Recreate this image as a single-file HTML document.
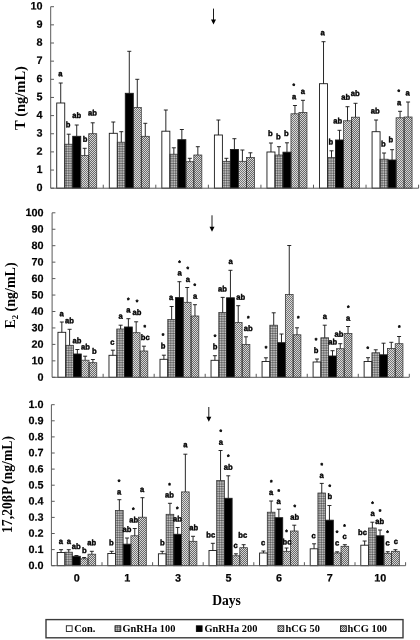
<!DOCTYPE html>
<html><head><meta charset="utf-8"><title>Figure</title>
<style>html,body{margin:0;padding:0;background:#fff}svg{display:block;filter:blur(0.32px)}
text{fill:#000}
.tx{opacity:0.999}
.tk{font:bold 10.8px "Liberation Sans",sans-serif;stroke:#000;stroke-width:0.2px}
.lt{font:bold 8px "Liberation Sans",sans-serif;text-anchor:middle;stroke:#000;stroke-width:0.42px}
.st{font:bold 6.5px "Liberation Sans",sans-serif;text-anchor:middle;stroke:#000;stroke-width:0.4px}
.yt{font-family:"Liberation Serif",serif;font-weight:bold;text-anchor:middle}
.lg{font:bold 10.4px "Liberation Serif",serif}
</style>
</head><body>
<svg width="420" height="640" viewBox="0 0 420 640">
<rect width="420" height="640" fill="#fff"/>
<defs>
<clipPath id="cg"><rect x="64.73" y="144.20" width="8.00" height="44.00"/><rect x="117.29" y="142.20" width="8.00" height="46.00"/><rect x="169.84" y="154.20" width="8.00" height="34.00"/><rect x="222.40" y="161.30" width="8.00" height="26.90"/><rect x="274.96" y="155.00" width="8.00" height="33.20"/><rect x="327.51" y="157.50" width="8.00" height="30.70"/><rect x="380.07" y="159.20" width="8.00" height="29.00"/><rect x="65.71" y="345.30" width="7.77" height="32.00"/><rect x="116.74" y="329.00" width="7.77" height="48.30"/><rect x="167.77" y="319.50" width="7.77" height="57.80"/><rect x="218.80" y="312.60" width="7.77" height="64.70"/><rect x="269.83" y="325.20" width="7.77" height="52.10"/><rect x="320.86" y="337.80" width="7.77" height="39.50"/><rect x="371.89" y="352.80" width="7.77" height="24.50"/><rect x="64.90" y="552.20" width="7.70" height="13.50"/><rect x="115.50" y="510.50" width="7.70" height="55.20"/><rect x="166.10" y="514.30" width="7.70" height="51.40"/><rect x="216.70" y="480.50" width="7.70" height="85.20"/><rect x="267.30" y="512.20" width="7.70" height="53.50"/><rect x="317.90" y="493.00" width="7.70" height="72.70"/><rect x="368.50" y="528.00" width="7.70" height="37.70"/><rect x="115.00" y="625.80" width="5.80" height="5.80"/></clipPath>
<clipPath id="cd"><rect x="80.73" y="155.50" width="8.00" height="32.70"/><rect x="133.29" y="107.50" width="8.00" height="80.70"/><rect x="185.84" y="161.70" width="8.00" height="26.50"/><rect x="238.40" y="161.30" width="8.00" height="26.90"/><rect x="290.96" y="113.80" width="8.00" height="74.40"/><rect x="343.51" y="120.80" width="8.00" height="67.40"/><rect x="396.07" y="117.80" width="8.00" height="70.40"/><rect x="81.25" y="360.20" width="7.77" height="17.10"/><rect x="132.28" y="332.70" width="7.77" height="44.60"/><rect x="183.30" y="302.30" width="7.77" height="75.00"/><rect x="234.33" y="322.60" width="7.77" height="54.70"/><rect x="285.36" y="294.60" width="7.77" height="82.70"/><rect x="336.39" y="348.70" width="7.77" height="28.60"/><rect x="387.42" y="348.50" width="7.77" height="28.80"/><rect x="80.30" y="558.80" width="7.70" height="6.90"/><rect x="130.90" y="535.80" width="7.70" height="29.90"/><rect x="181.50" y="491.90" width="7.70" height="73.80"/><rect x="232.10" y="555.80" width="7.70" height="9.90"/><rect x="282.70" y="551.30" width="7.70" height="14.40"/><rect x="333.30" y="553.00" width="7.70" height="12.70"/><rect x="383.90" y="553.30" width="7.70" height="12.40"/><rect x="278.00" y="625.80" width="5.80" height="5.80"/></clipPath>
<clipPath id="cw"><rect x="88.73" y="133.70" width="8.00" height="54.50"/><rect x="141.29" y="136.30" width="8.00" height="51.90"/><rect x="193.84" y="155.00" width="8.00" height="33.20"/><rect x="246.40" y="157.50" width="8.00" height="30.70"/><rect x="298.96" y="112.50" width="8.00" height="75.70"/><rect x="351.51" y="117.20" width="8.00" height="71.00"/><rect x="404.07" y="117.00" width="8.00" height="71.20"/><rect x="89.01" y="362.70" width="7.77" height="14.60"/><rect x="140.04" y="351.00" width="7.77" height="26.30"/><rect x="191.07" y="316.00" width="7.77" height="61.30"/><rect x="242.10" y="344.50" width="7.77" height="32.80"/><rect x="293.13" y="334.80" width="7.77" height="42.50"/><rect x="344.16" y="333.50" width="7.77" height="43.80"/><rect x="395.19" y="343.70" width="7.77" height="33.60"/><rect x="88.00" y="554.20" width="7.70" height="11.50"/><rect x="138.60" y="517.20" width="7.70" height="48.50"/><rect x="189.20" y="541.30" width="7.70" height="24.40"/><rect x="239.80" y="547.70" width="7.70" height="18.00"/><rect x="290.40" y="531.00" width="7.70" height="34.70"/><rect x="341.00" y="546.30" width="7.70" height="19.40"/><rect x="391.60" y="551.30" width="7.70" height="14.40"/><rect x="340.50" y="625.80" width="5.80" height="5.80"/></clipPath>
<pattern id="pd" width="2" height="2" patternUnits="userSpaceOnUse"><rect width="2" height="2" fill="#dadada"/><rect width="1" height="1" fill="#767676"/><rect x="1" y="1" width="1" height="1" fill="#767676"/></pattern>
<pattern id="pw" width="2" height="2" patternUnits="userSpaceOnUse"><rect width="2" height="2" fill="#d4d4d4"/><rect x="1" width="1" height="1" fill="#686868"/><rect y="1" width="1" height="1" fill="#686868"/></pattern>
</defs>
<g><rect x="72.73" y="136.30" width="8.00" height="51.90" fill="#000"/><rect x="125.29" y="93.30" width="8.00" height="94.90" fill="#000"/><rect x="177.84" y="139.70" width="8.00" height="48.50" fill="#000"/><rect x="230.40" y="149.50" width="8.00" height="38.70" fill="#000"/><rect x="282.96" y="152.20" width="8.00" height="36.00" fill="#000"/><rect x="335.51" y="140.00" width="8.00" height="48.20" fill="#000"/><rect x="388.07" y="160.00" width="8.00" height="28.20" fill="#000"/><rect x="73.48" y="354.00" width="7.77" height="23.30" fill="#000"/><rect x="124.51" y="327.00" width="7.77" height="50.30" fill="#000"/><rect x="175.54" y="297.60" width="7.77" height="79.70" fill="#000"/><rect x="226.57" y="297.80" width="7.77" height="79.50" fill="#000"/><rect x="277.60" y="342.70" width="7.77" height="34.60" fill="#000"/><rect x="328.62" y="356.00" width="7.77" height="21.30" fill="#000"/><rect x="379.65" y="354.80" width="7.77" height="22.50" fill="#000"/><rect x="72.60" y="556.30" width="7.70" height="9.40" fill="#000"/><rect x="123.20" y="544.20" width="7.70" height="21.50" fill="#000"/><rect x="173.80" y="534.30" width="7.70" height="31.40" fill="#000"/><rect x="224.40" y="498.30" width="7.70" height="67.40" fill="#000"/><rect x="275.00" y="517.70" width="7.70" height="48.00" fill="#000"/><rect x="325.60" y="520.20" width="7.70" height="45.50" fill="#000"/><rect x="376.20" y="535.80" width="7.70" height="29.90" fill="#000"/></g>
<path clip-path="url(#cg)" d="M0.3 0V640M2 0V640M3.7 0V640M5.4 0V640M7.1 0V640M8.8 0V640M10.5 0V640M12.2 0V640M13.9 0V640M15.6 0V640M17.3 0V640M19 0V640M20.7 0V640M22.4 0V640M24.1 0V640M25.8 0V640M27.5 0V640M29.2 0V640M30.9 0V640M32.6 0V640M34.3 0V640M36 0V640M37.7 0V640M39.4 0V640M41.1 0V640M42.8 0V640M44.5 0V640M46.2 0V640M47.9 0V640M49.6 0V640M51.3 0V640M53 0V640M54.7 0V640M56.4 0V640M58.1 0V640M59.8 0V640M61.5 0V640M63.2 0V640M64.9 0V640M66.6 0V640M68.3 0V640M70 0V640M71.7 0V640M73.4 0V640M75.1 0V640M76.8 0V640M78.5 0V640M80.2 0V640M81.9 0V640M83.6 0V640M85.3 0V640M87 0V640M88.7 0V640M90.4 0V640M92.1 0V640M93.8 0V640M95.5 0V640M97.2 0V640M98.9 0V640M100.6 0V640M102.3 0V640M104 0V640M105.7 0V640M107.4 0V640M109.1 0V640M110.8 0V640M112.5 0V640M114.2 0V640M115.9 0V640M117.6 0V640M119.3 0V640M121 0V640M122.7 0V640M124.4 0V640M126.1 0V640M127.8 0V640M129.5 0V640M131.2 0V640M132.9 0V640M134.6 0V640M136.3 0V640M138 0V640M139.7 0V640M141.4 0V640M143.1 0V640M144.8 0V640M146.5 0V640M148.2 0V640M149.9 0V640M151.6 0V640M153.3 0V640M155 0V640M156.7 0V640M158.4 0V640M160.1 0V640M161.8 0V640M163.5 0V640M165.2 0V640M166.9 0V640M168.6 0V640M170.3 0V640M172 0V640M173.7 0V640M175.4 0V640M177.1 0V640M178.8 0V640M180.5 0V640M182.2 0V640M183.9 0V640M185.6 0V640M187.3 0V640M189 0V640M190.7 0V640M192.4 0V640M194.1 0V640M195.8 0V640M197.5 0V640M199.2 0V640M200.9 0V640M202.6 0V640M204.3 0V640M206 0V640M207.7 0V640M209.4 0V640M211.1 0V640M212.8 0V640M214.5 0V640M216.2 0V640M217.9 0V640M219.6 0V640M221.3 0V640M223 0V640M224.7 0V640M226.4 0V640M228.1 0V640M229.8 0V640M231.5 0V640M233.2 0V640M234.9 0V640M236.6 0V640M238.3 0V640M240 0V640M241.7 0V640M243.4 0V640M245.1 0V640M246.8 0V640M248.5 0V640M250.2 0V640M251.9 0V640M253.6 0V640M255.3 0V640M257 0V640M258.7 0V640M260.4 0V640M262.1 0V640M263.8 0V640M265.5 0V640M267.2 0V640M268.9 0V640M270.6 0V640M272.3 0V640M274 0V640M275.7 0V640M277.4 0V640M279.1 0V640M280.8 0V640M282.5 0V640M284.2 0V640M285.9 0V640M287.6 0V640M289.3 0V640M291 0V640M292.7 0V640M294.4 0V640M296.1 0V640M297.8 0V640M299.5 0V640M301.2 0V640M302.9 0V640M304.6 0V640M306.3 0V640M308 0V640M309.7 0V640M311.4 0V640M313.1 0V640M314.8 0V640M316.5 0V640M318.2 0V640M319.9 0V640M321.6 0V640M323.3 0V640M325 0V640M326.7 0V640M328.4 0V640M330.1 0V640M331.8 0V640M333.5 0V640M335.2 0V640M336.9 0V640M338.6 0V640M340.3 0V640M342 0V640M343.7 0V640M345.4 0V640M347.1 0V640M348.8 0V640M350.5 0V640M352.2 0V640M353.9 0V640M355.6 0V640M357.3 0V640M359 0V640M360.7 0V640M362.4 0V640M364.1 0V640M365.8 0V640M367.5 0V640M369.2 0V640M370.9 0V640M372.6 0V640M374.3 0V640M376 0V640M377.7 0V640M379.4 0V640M381.1 0V640M382.8 0V640M384.5 0V640M386.2 0V640M387.9 0V640M389.6 0V640M391.3 0V640M393 0V640M394.7 0V640M396.4 0V640M398.1 0V640M399.8 0V640M401.5 0V640M403.2 0V640M404.9 0V640M406.6 0V640M408.3 0V640M410 0V640M411.7 0V640M413.4 0V640M415.1 0V640M416.8 0V640M418.5 0V640M0 0.3H420M0 2H420M0 3.7H420M0 5.4H420M0 7.1H420M0 8.8H420M0 10.5H420M0 12.2H420M0 13.9H420M0 15.6H420M0 17.3H420M0 19H420M0 20.7H420M0 22.4H420M0 24.1H420M0 25.8H420M0 27.5H420M0 29.2H420M0 30.9H420M0 32.6H420M0 34.3H420M0 36H420M0 37.7H420M0 39.4H420M0 41.1H420M0 42.8H420M0 44.5H420M0 46.2H420M0 47.9H420M0 49.6H420M0 51.3H420M0 53H420M0 54.7H420M0 56.4H420M0 58.1H420M0 59.8H420M0 61.5H420M0 63.2H420M0 64.9H420M0 66.6H420M0 68.3H420M0 70H420M0 71.7H420M0 73.4H420M0 75.1H420M0 76.8H420M0 78.5H420M0 80.2H420M0 81.9H420M0 83.6H420M0 85.3H420M0 87H420M0 88.7H420M0 90.4H420M0 92.1H420M0 93.8H420M0 95.5H420M0 97.2H420M0 98.9H420M0 100.6H420M0 102.3H420M0 104H420M0 105.7H420M0 107.4H420M0 109.1H420M0 110.8H420M0 112.5H420M0 114.2H420M0 115.9H420M0 117.6H420M0 119.3H420M0 121H420M0 122.7H420M0 124.4H420M0 126.1H420M0 127.8H420M0 129.5H420M0 131.2H420M0 132.9H420M0 134.6H420M0 136.3H420M0 138H420M0 139.7H420M0 141.4H420M0 143.1H420M0 144.8H420M0 146.5H420M0 148.2H420M0 149.9H420M0 151.6H420M0 153.3H420M0 155H420M0 156.7H420M0 158.4H420M0 160.1H420M0 161.8H420M0 163.5H420M0 165.2H420M0 166.9H420M0 168.6H420M0 170.3H420M0 172H420M0 173.7H420M0 175.4H420M0 177.1H420M0 178.8H420M0 180.5H420M0 182.2H420M0 183.9H420M0 185.6H420M0 187.3H420M0 189H420M0 190.7H420M0 192.4H420M0 194.1H420M0 195.8H420M0 197.5H420M0 199.2H420M0 200.9H420M0 202.6H420M0 204.3H420M0 206H420M0 207.7H420M0 209.4H420M0 211.1H420M0 212.8H420M0 214.5H420M0 216.2H420M0 217.9H420M0 219.6H420M0 221.3H420M0 223H420M0 224.7H420M0 226.4H420M0 228.1H420M0 229.8H420M0 231.5H420M0 233.2H420M0 234.9H420M0 236.6H420M0 238.3H420M0 240H420M0 241.7H420M0 243.4H420M0 245.1H420M0 246.8H420M0 248.5H420M0 250.2H420M0 251.9H420M0 253.6H420M0 255.3H420M0 257H420M0 258.7H420M0 260.4H420M0 262.1H420M0 263.8H420M0 265.5H420M0 267.2H420M0 268.9H420M0 270.6H420M0 272.3H420M0 274H420M0 275.7H420M0 277.4H420M0 279.1H420M0 280.8H420M0 282.5H420M0 284.2H420M0 285.9H420M0 287.6H420M0 289.3H420M0 291H420M0 292.7H420M0 294.4H420M0 296.1H420M0 297.8H420M0 299.5H420M0 301.2H420M0 302.9H420M0 304.6H420M0 306.3H420M0 308H420M0 309.7H420M0 311.4H420M0 313.1H420M0 314.8H420M0 316.5H420M0 318.2H420M0 319.9H420M0 321.6H420M0 323.3H420M0 325H420M0 326.7H420M0 328.4H420M0 330.1H420M0 331.8H420M0 333.5H420M0 335.2H420M0 336.9H420M0 338.6H420M0 340.3H420M0 342H420M0 343.7H420M0 345.4H420M0 347.1H420M0 348.8H420M0 350.5H420M0 352.2H420M0 353.9H420M0 355.6H420M0 357.3H420M0 359H420M0 360.7H420M0 362.4H420M0 364.1H420M0 365.8H420M0 367.5H420M0 369.2H420M0 370.9H420M0 372.6H420M0 374.3H420M0 376H420M0 377.7H420M0 379.4H420M0 381.1H420M0 382.8H420M0 384.5H420M0 386.2H420M0 387.9H420M0 389.6H420M0 391.3H420M0 393H420M0 394.7H420M0 396.4H420M0 398.1H420M0 399.8H420M0 401.5H420M0 403.2H420M0 404.9H420M0 406.6H420M0 408.3H420M0 410H420M0 411.7H420M0 413.4H420M0 415.1H420M0 416.8H420M0 418.5H420M0 420.2H420M0 421.9H420M0 423.6H420M0 425.3H420M0 427H420M0 428.7H420M0 430.4H420M0 432.1H420M0 433.8H420M0 435.5H420M0 437.2H420M0 438.9H420M0 440.6H420M0 442.3H420M0 444H420M0 445.7H420M0 447.4H420M0 449.1H420M0 450.8H420M0 452.5H420M0 454.2H420M0 455.9H420M0 457.6H420M0 459.3H420M0 461H420M0 462.7H420M0 464.4H420M0 466.1H420M0 467.8H420M0 469.5H420M0 471.2H420M0 472.9H420M0 474.6H420M0 476.3H420M0 478H420M0 479.7H420M0 481.4H420M0 483.1H420M0 484.8H420M0 486.5H420M0 488.2H420M0 489.9H420M0 491.6H420M0 493.3H420M0 495H420M0 496.7H420M0 498.4H420M0 500.1H420M0 501.8H420M0 503.5H420M0 505.2H420M0 506.9H420M0 508.6H420M0 510.3H420M0 512H420M0 513.7H420M0 515.4H420M0 517.1H420M0 518.8H420M0 520.5H420M0 522.2H420M0 523.9H420M0 525.6H420M0 527.3H420M0 529H420M0 530.7H420M0 532.4H420M0 534.1H420M0 535.8H420M0 537.5H420M0 539.2H420M0 540.9H420M0 542.6H420M0 544.3H420M0 546H420M0 547.7H420M0 549.4H420M0 551.1H420M0 552.8H420M0 554.5H420M0 556.2H420M0 557.9H420M0 559.6H420M0 561.3H420M0 563H420M0 564.7H420M0 566.4H420M0 568.1H420M0 569.8H420M0 571.5H420M0 573.2H420M0 574.9H420M0 576.6H420M0 578.3H420M0 580H420M0 581.7H420M0 583.4H420M0 585.1H420M0 586.8H420M0 588.5H420M0 590.2H420M0 591.9H420M0 593.6H420M0 595.3H420M0 597H420M0 598.7H420M0 600.4H420M0 602.1H420M0 603.8H420M0 605.5H420M0 607.2H420M0 608.9H420M0 610.6H420M0 612.3H420M0 614H420M0 615.7H420M0 617.4H420M0 619.1H420M0 620.8H420M0 622.5H420M0 624.2H420M0 625.9H420M0 627.6H420M0 629.3H420M0 631H420M0 632.7H420M0 634.4H420M0 636.1H420M0 637.8H420M0 639.5H420" stroke="#000" stroke-width="0.43" fill="none"/>
<rect clip-path="url(#cd)" width="420" height="640" fill="url(#pd)" shape-rendering="crispEdges"/>
<rect clip-path="url(#cw)" width="420" height="640" fill="url(#pw)" shape-rendering="crispEdges"/>
<g><rect x="56.73" y="103.00" width="8.00" height="85.20" fill="none" stroke="#1a1a1a" stroke-width="0.90"/>
<path d="M60.73 103.00V83.00M58.73 83.00H62.73" stroke="#111" stroke-width="0.9" fill="none"/>
<rect x="64.73" y="144.20" width="8.00" height="44.00" fill="none" stroke="#333" stroke-width="0.75"/>
<path d="M68.73 144.20V134.20M66.73 134.20H70.73" stroke="#111" stroke-width="0.9" fill="none"/>
<rect x="72.73" y="136.30" width="8.00" height="51.90" fill="none" stroke="#1a1a1a" stroke-width="0.90"/>
<path d="M76.73 136.30V125.00M74.73 125.00H78.73" stroke="#111" stroke-width="0.9" fill="none"/>
<rect x="80.73" y="155.50" width="8.00" height="32.70" fill="none" stroke="#333" stroke-width="0.75"/>
<path d="M84.73 155.50V148.30M82.73 148.30H86.73" stroke="#111" stroke-width="0.9" fill="none"/>
<rect x="88.73" y="133.70" width="8.00" height="54.50" fill="none" stroke="#333" stroke-width="0.75"/>
<path d="M92.73 133.70V122.80M90.73 122.80H94.73" stroke="#111" stroke-width="0.9" fill="none"/>
<rect x="109.29" y="133.30" width="8.00" height="54.90" fill="none" stroke="#1a1a1a" stroke-width="0.90"/>
<path d="M113.29 133.30V122.00M111.29 122.00H115.29" stroke="#111" stroke-width="0.9" fill="none"/>
<rect x="117.29" y="142.20" width="8.00" height="46.00" fill="none" stroke="#333" stroke-width="0.75"/>
<path d="M121.29 142.20V131.70M119.29 131.70H123.29" stroke="#111" stroke-width="0.9" fill="none"/>
<rect x="125.29" y="93.30" width="8.00" height="94.90" fill="none" stroke="#1a1a1a" stroke-width="0.90"/>
<path d="M129.29 93.30V51.30M127.29 51.30H131.29" stroke="#111" stroke-width="0.9" fill="none"/>
<rect x="133.29" y="107.50" width="8.00" height="80.70" fill="none" stroke="#333" stroke-width="0.75"/>
<path d="M137.29 107.50V79.30M135.29 79.30H139.29" stroke="#111" stroke-width="0.9" fill="none"/>
<rect x="141.29" y="136.30" width="8.00" height="51.90" fill="none" stroke="#333" stroke-width="0.75"/>
<path d="M145.28 136.30V123.30M143.28 123.30H147.28" stroke="#111" stroke-width="0.9" fill="none"/>
<rect x="161.84" y="131.20" width="8.00" height="57.00" fill="none" stroke="#1a1a1a" stroke-width="0.90"/>
<path d="M165.84 131.20V110.00M163.84 110.00H167.84" stroke="#111" stroke-width="0.9" fill="none"/>
<rect x="169.84" y="154.20" width="8.00" height="34.00" fill="none" stroke="#333" stroke-width="0.75"/>
<path d="M173.84 154.20V147.80M171.84 147.80H175.84" stroke="#111" stroke-width="0.9" fill="none"/>
<rect x="177.84" y="139.70" width="8.00" height="48.50" fill="none" stroke="#1a1a1a" stroke-width="0.90"/>
<path d="M181.84 139.70V129.50M179.84 129.50H183.84" stroke="#111" stroke-width="0.9" fill="none"/>
<rect x="185.84" y="161.70" width="8.00" height="26.50" fill="none" stroke="#333" stroke-width="0.75"/>
<path d="M189.84 161.70V158.30M187.84 158.30H191.84" stroke="#111" stroke-width="0.9" fill="none"/>
<rect x="193.84" y="155.00" width="8.00" height="33.20" fill="none" stroke="#333" stroke-width="0.75"/>
<path d="M197.84 155.00V146.70M195.84 146.70H199.84" stroke="#111" stroke-width="0.9" fill="none"/>
<rect x="214.40" y="135.00" width="8.00" height="53.20" fill="none" stroke="#1a1a1a" stroke-width="0.90"/>
<path d="M218.40 135.00V120.00M216.40 120.00H220.40" stroke="#111" stroke-width="0.9" fill="none"/>
<rect x="222.40" y="161.30" width="8.00" height="26.90" fill="none" stroke="#333" stroke-width="0.75"/>
<path d="M226.40 161.30V158.30M224.40 158.30H228.40" stroke="#111" stroke-width="0.9" fill="none"/>
<rect x="230.40" y="149.50" width="8.00" height="38.70" fill="none" stroke="#1a1a1a" stroke-width="0.90"/>
<path d="M234.40 149.50V138.70M232.40 138.70H236.40" stroke="#111" stroke-width="0.9" fill="none"/>
<rect x="238.40" y="161.30" width="8.00" height="26.90" fill="none" stroke="#333" stroke-width="0.75"/>
<path d="M242.40 161.30V150.00M240.40 150.00H244.40" stroke="#111" stroke-width="0.9" fill="none"/>
<rect x="246.40" y="157.50" width="8.00" height="30.70" fill="none" stroke="#333" stroke-width="0.75"/>
<path d="M250.40 157.50V152.80M248.40 152.80H252.40" stroke="#111" stroke-width="0.9" fill="none"/>
<rect x="266.96" y="152.00" width="8.00" height="36.20" fill="none" stroke="#1a1a1a" stroke-width="0.90"/>
<path d="M270.96 152.00V143.00M268.96 143.00H272.96" stroke="#111" stroke-width="0.9" fill="none"/>
<rect x="274.96" y="155.00" width="8.00" height="33.20" fill="none" stroke="#333" stroke-width="0.75"/>
<path d="M278.96 155.00V146.70M276.96 146.70H280.96" stroke="#111" stroke-width="0.9" fill="none"/>
<rect x="282.96" y="152.20" width="8.00" height="36.00" fill="none" stroke="#1a1a1a" stroke-width="0.90"/>
<path d="M286.96 152.20V142.80M284.96 142.80H288.96" stroke="#111" stroke-width="0.9" fill="none"/>
<rect x="290.96" y="113.80" width="8.00" height="74.40" fill="none" stroke="#333" stroke-width="0.75"/>
<path d="M294.96 113.80V105.50M292.96 105.50H296.96" stroke="#111" stroke-width="0.9" fill="none"/>
<rect x="298.96" y="112.50" width="8.00" height="75.70" fill="none" stroke="#333" stroke-width="0.75"/>
<path d="M302.96 112.50V100.30M300.96 100.30H304.96" stroke="#111" stroke-width="0.9" fill="none"/>
<rect x="319.52" y="83.70" width="8.00" height="104.50" fill="none" stroke="#1a1a1a" stroke-width="0.90"/>
<path d="M323.52 83.70V41.70M321.52 41.70H325.52" stroke="#111" stroke-width="0.9" fill="none"/>
<rect x="327.51" y="157.50" width="8.00" height="30.70" fill="none" stroke="#333" stroke-width="0.75"/>
<path d="M331.51 157.50V150.80M329.51 150.80H333.51" stroke="#111" stroke-width="0.9" fill="none"/>
<rect x="335.51" y="140.00" width="8.00" height="48.20" fill="none" stroke="#1a1a1a" stroke-width="0.90"/>
<path d="M339.51 140.00V130.30M337.51 130.30H341.51" stroke="#111" stroke-width="0.9" fill="none"/>
<rect x="343.51" y="120.80" width="8.00" height="67.40" fill="none" stroke="#333" stroke-width="0.75"/>
<path d="M347.51 120.80V106.70M345.51 106.70H349.51" stroke="#111" stroke-width="0.9" fill="none"/>
<rect x="351.51" y="117.20" width="8.00" height="71.00" fill="none" stroke="#333" stroke-width="0.75"/>
<path d="M355.51 117.20V103.30M353.51 103.30H357.51" stroke="#111" stroke-width="0.9" fill="none"/>
<rect x="372.07" y="131.70" width="8.00" height="56.50" fill="none" stroke="#1a1a1a" stroke-width="0.90"/>
<path d="M376.07 131.70V120.00M374.07 120.00H378.07" stroke="#111" stroke-width="0.9" fill="none"/>
<rect x="380.07" y="159.20" width="8.00" height="29.00" fill="none" stroke="#333" stroke-width="0.75"/>
<path d="M384.07 159.20V153.00M382.07 153.00H386.07" stroke="#111" stroke-width="0.9" fill="none"/>
<rect x="388.07" y="160.00" width="8.00" height="28.20" fill="none" stroke="#1a1a1a" stroke-width="0.90"/>
<path d="M392.07 160.00V149.70M390.07 149.70H394.07" stroke="#111" stroke-width="0.9" fill="none"/>
<rect x="396.07" y="117.80" width="8.00" height="70.40" fill="none" stroke="#333" stroke-width="0.75"/>
<path d="M400.07 117.80V111.30M398.07 111.30H402.07" stroke="#111" stroke-width="0.9" fill="none"/>
<rect x="404.07" y="117.00" width="8.00" height="71.20" fill="none" stroke="#333" stroke-width="0.75"/>
<path d="M408.07 117.00V102.00M406.07 102.00H410.07" stroke="#111" stroke-width="0.9" fill="none"/>
<rect x="57.95" y="332.30" width="7.77" height="45.00" fill="none" stroke="#1a1a1a" stroke-width="0.90"/>
<path d="M61.83 332.30V322.00M59.83 322.00H63.83" stroke="#111" stroke-width="0.9" fill="none"/>
<rect x="65.71" y="345.30" width="7.77" height="32.00" fill="none" stroke="#333" stroke-width="0.75"/>
<path d="M69.60 345.30V329.30M67.60 329.30H71.60" stroke="#111" stroke-width="0.9" fill="none"/>
<rect x="73.48" y="354.00" width="7.77" height="23.30" fill="none" stroke="#1a1a1a" stroke-width="0.90"/>
<path d="M77.36 354.00V349.50M75.36 349.50H79.36" stroke="#111" stroke-width="0.9" fill="none"/>
<rect x="81.25" y="360.20" width="7.77" height="17.10" fill="none" stroke="#333" stroke-width="0.75"/>
<path d="M85.13 360.20V356.20M83.13 356.20H87.13" stroke="#111" stroke-width="0.9" fill="none"/>
<rect x="89.01" y="362.70" width="7.77" height="14.60" fill="none" stroke="#333" stroke-width="0.75"/>
<path d="M92.90 362.70V359.50M90.90 359.50H94.90" stroke="#111" stroke-width="0.9" fill="none"/>
<rect x="108.98" y="355.30" width="7.77" height="22.00" fill="none" stroke="#1a1a1a" stroke-width="0.90"/>
<path d="M112.86 355.30V350.20M110.86 350.20H114.86" stroke="#111" stroke-width="0.9" fill="none"/>
<rect x="116.74" y="329.00" width="7.77" height="48.30" fill="none" stroke="#333" stroke-width="0.75"/>
<path d="M120.63 329.00V325.20M118.63 325.20H122.63" stroke="#111" stroke-width="0.9" fill="none"/>
<rect x="124.51" y="327.00" width="7.77" height="50.30" fill="none" stroke="#1a1a1a" stroke-width="0.90"/>
<path d="M128.39 327.00V318.70M126.39 318.70H130.39" stroke="#111" stroke-width="0.9" fill="none"/>
<rect x="132.28" y="332.70" width="7.77" height="44.60" fill="none" stroke="#333" stroke-width="0.75"/>
<path d="M136.16 332.70V321.80M134.16 321.80H138.16" stroke="#111" stroke-width="0.9" fill="none"/>
<rect x="140.04" y="351.00" width="7.77" height="26.30" fill="none" stroke="#333" stroke-width="0.75"/>
<path d="M143.93 351.00V346.20M141.93 346.20H145.93" stroke="#111" stroke-width="0.9" fill="none"/>
<rect x="160.00" y="359.30" width="7.77" height="18.00" fill="none" stroke="#1a1a1a" stroke-width="0.90"/>
<path d="M163.89 359.30V355.20M161.89 355.20H165.89" stroke="#111" stroke-width="0.9" fill="none"/>
<rect x="167.77" y="319.50" width="7.77" height="57.80" fill="none" stroke="#333" stroke-width="0.75"/>
<path d="M171.65 319.50V306.50M169.65 306.50H173.65" stroke="#111" stroke-width="0.9" fill="none"/>
<rect x="175.54" y="297.60" width="7.77" height="79.70" fill="none" stroke="#1a1a1a" stroke-width="0.90"/>
<path d="M179.42 297.60V281.70M177.42 281.70H181.42" stroke="#111" stroke-width="0.9" fill="none"/>
<rect x="183.30" y="302.30" width="7.77" height="75.00" fill="none" stroke="#333" stroke-width="0.75"/>
<path d="M187.19 302.30V287.50M185.19 287.50H189.19" stroke="#111" stroke-width="0.9" fill="none"/>
<rect x="191.07" y="316.00" width="7.77" height="61.30" fill="none" stroke="#333" stroke-width="0.75"/>
<path d="M194.96 316.00V304.70M192.96 304.70H196.96" stroke="#111" stroke-width="0.9" fill="none"/>
<rect x="211.03" y="360.30" width="7.77" height="17.00" fill="none" stroke="#1a1a1a" stroke-width="0.90"/>
<path d="M214.92 360.30V355.70M212.92 355.70H216.92" stroke="#111" stroke-width="0.9" fill="none"/>
<rect x="218.80" y="312.60" width="7.77" height="64.70" fill="none" stroke="#333" stroke-width="0.75"/>
<path d="M222.68 312.60V297.40M220.68 297.40H224.68" stroke="#111" stroke-width="0.9" fill="none"/>
<rect x="226.57" y="297.80" width="7.77" height="79.50" fill="none" stroke="#1a1a1a" stroke-width="0.90"/>
<path d="M230.45 297.80V270.30M228.45 270.30H232.45" stroke="#111" stroke-width="0.9" fill="none"/>
<rect x="234.33" y="322.60" width="7.77" height="54.70" fill="none" stroke="#333" stroke-width="0.75"/>
<path d="M238.22 322.60V305.70M236.22 305.70H240.22" stroke="#111" stroke-width="0.9" fill="none"/>
<rect x="242.10" y="344.50" width="7.77" height="32.80" fill="none" stroke="#333" stroke-width="0.75"/>
<path d="M245.98 344.50V336.80M243.98 336.80H247.98" stroke="#111" stroke-width="0.9" fill="none"/>
<rect x="262.06" y="361.50" width="7.77" height="15.80" fill="none" stroke="#1a1a1a" stroke-width="0.90"/>
<path d="M265.94 361.50V357.80M263.94 357.80H267.94" stroke="#111" stroke-width="0.9" fill="none"/>
<rect x="269.83" y="325.20" width="7.77" height="52.10" fill="none" stroke="#333" stroke-width="0.75"/>
<path d="M273.71 325.20V312.80M271.71 312.80H275.71" stroke="#111" stroke-width="0.9" fill="none"/>
<rect x="277.60" y="342.70" width="7.77" height="34.60" fill="none" stroke="#1a1a1a" stroke-width="0.90"/>
<path d="M281.48 342.70V334.00M279.48 334.00H283.48" stroke="#111" stroke-width="0.9" fill="none"/>
<rect x="285.36" y="294.60" width="7.77" height="82.70" fill="none" stroke="#333" stroke-width="0.75"/>
<path d="M289.25 294.60V245.50M287.25 245.50H291.25" stroke="#111" stroke-width="0.9" fill="none"/>
<rect x="293.13" y="334.80" width="7.77" height="42.50" fill="none" stroke="#333" stroke-width="0.75"/>
<path d="M297.01 334.80V327.80M295.01 327.80H299.01" stroke="#111" stroke-width="0.9" fill="none"/>
<rect x="313.09" y="362.00" width="7.77" height="15.30" fill="none" stroke="#1a1a1a" stroke-width="0.90"/>
<path d="M316.97 362.00V359.00M314.97 359.00H318.97" stroke="#111" stroke-width="0.9" fill="none"/>
<rect x="320.86" y="337.80" width="7.77" height="39.50" fill="none" stroke="#333" stroke-width="0.75"/>
<path d="M324.74 337.80V325.20M322.74 325.20H326.74" stroke="#111" stroke-width="0.9" fill="none"/>
<rect x="328.62" y="356.00" width="7.77" height="21.30" fill="none" stroke="#1a1a1a" stroke-width="0.90"/>
<path d="M332.51 356.00V350.70M330.51 350.70H334.51" stroke="#111" stroke-width="0.9" fill="none"/>
<rect x="336.39" y="348.70" width="7.77" height="28.60" fill="none" stroke="#333" stroke-width="0.75"/>
<path d="M340.27 348.70V343.70M338.27 343.70H342.27" stroke="#111" stroke-width="0.9" fill="none"/>
<rect x="344.16" y="333.50" width="7.77" height="43.80" fill="none" stroke="#333" stroke-width="0.75"/>
<path d="M348.04 333.50V326.50M346.04 326.50H350.04" stroke="#111" stroke-width="0.9" fill="none"/>
<rect x="364.12" y="361.50" width="7.77" height="15.80" fill="none" stroke="#1a1a1a" stroke-width="0.90"/>
<path d="M368.00 361.50V357.70M366.00 357.70H370.00" stroke="#111" stroke-width="0.9" fill="none"/>
<rect x="371.89" y="352.80" width="7.77" height="24.50" fill="none" stroke="#333" stroke-width="0.75"/>
<path d="M375.77 352.80V349.80M373.77 349.80H377.77" stroke="#111" stroke-width="0.9" fill="none"/>
<rect x="379.65" y="354.80" width="7.77" height="22.50" fill="none" stroke="#1a1a1a" stroke-width="0.90"/>
<path d="M383.54 354.80V343.20M381.54 343.20H385.54" stroke="#111" stroke-width="0.9" fill="none"/>
<rect x="387.42" y="348.50" width="7.77" height="28.80" fill="none" stroke="#333" stroke-width="0.75"/>
<path d="M391.30 348.50V342.30M389.30 342.30H393.30" stroke="#111" stroke-width="0.9" fill="none"/>
<rect x="395.19" y="343.70" width="7.77" height="33.60" fill="none" stroke="#333" stroke-width="0.75"/>
<path d="M399.07 343.70V336.50M397.07 336.50H401.07" stroke="#111" stroke-width="0.9" fill="none"/>
<rect x="57.20" y="552.50" width="7.70" height="13.20" fill="none" stroke="#1a1a1a" stroke-width="0.90"/>
<path d="M61.05 552.50V549.70M59.05 549.70H63.05" stroke="#111" stroke-width="0.9" fill="none"/>
<rect x="64.90" y="552.20" width="7.70" height="13.50" fill="none" stroke="#333" stroke-width="0.75"/>
<path d="M68.75 552.20V549.70M66.75 549.70H70.75" stroke="#111" stroke-width="0.9" fill="none"/>
<rect x="72.60" y="556.30" width="7.70" height="9.40" fill="none" stroke="#1a1a1a" stroke-width="0.90"/>
<path d="M76.45 556.30V555.50M74.45 555.50H78.45" stroke="#111" stroke-width="0.9" fill="none"/>
<rect x="80.30" y="558.80" width="7.70" height="6.90" fill="none" stroke="#333" stroke-width="0.75"/>
<path d="M84.15 558.80V557.50M82.15 557.50H86.15" stroke="#111" stroke-width="0.9" fill="none"/>
<rect x="88.00" y="554.20" width="7.70" height="11.50" fill="none" stroke="#333" stroke-width="0.75"/>
<path d="M91.85 554.20V551.30M89.85 551.30H93.85" stroke="#111" stroke-width="0.9" fill="none"/>
<rect x="107.80" y="553.50" width="7.70" height="12.20" fill="none" stroke="#1a1a1a" stroke-width="0.90"/>
<path d="M111.65 553.50V551.30M109.65 551.30H113.65" stroke="#111" stroke-width="0.9" fill="none"/>
<rect x="115.50" y="510.50" width="7.70" height="55.20" fill="none" stroke="#333" stroke-width="0.75"/>
<path d="M119.35 510.50V499.70M117.35 499.70H121.35" stroke="#111" stroke-width="0.9" fill="none"/>
<rect x="123.20" y="544.20" width="7.70" height="21.50" fill="none" stroke="#1a1a1a" stroke-width="0.90"/>
<path d="M127.05 544.20V538.00M125.05 538.00H129.05" stroke="#111" stroke-width="0.9" fill="none"/>
<rect x="130.90" y="535.80" width="7.70" height="29.90" fill="none" stroke="#333" stroke-width="0.75"/>
<path d="M134.75 535.80V528.50M132.75 528.50H136.75" stroke="#111" stroke-width="0.9" fill="none"/>
<rect x="138.60" y="517.20" width="7.70" height="48.50" fill="none" stroke="#333" stroke-width="0.75"/>
<path d="M142.45 517.20V497.70M140.45 497.70H144.45" stroke="#111" stroke-width="0.9" fill="none"/>
<rect x="158.40" y="553.80" width="7.70" height="11.90" fill="none" stroke="#1a1a1a" stroke-width="0.90"/>
<path d="M162.25 553.80V551.30M160.25 551.30H164.25" stroke="#111" stroke-width="0.9" fill="none"/>
<rect x="166.10" y="514.30" width="7.70" height="51.40" fill="none" stroke="#333" stroke-width="0.75"/>
<path d="M169.95 514.30V503.30M167.95 503.30H171.95" stroke="#111" stroke-width="0.9" fill="none"/>
<rect x="173.80" y="534.30" width="7.70" height="31.40" fill="none" stroke="#1a1a1a" stroke-width="0.90"/>
<path d="M177.65 534.30V527.50M175.65 527.50H179.65" stroke="#111" stroke-width="0.9" fill="none"/>
<rect x="181.50" y="491.90" width="7.70" height="73.80" fill="none" stroke="#333" stroke-width="0.75"/>
<path d="M185.35 491.90V454.20M183.35 454.20H187.35" stroke="#111" stroke-width="0.9" fill="none"/>
<rect x="189.20" y="541.30" width="7.70" height="24.40" fill="none" stroke="#333" stroke-width="0.75"/>
<path d="M193.05 541.30V536.30M191.05 536.30H195.05" stroke="#111" stroke-width="0.9" fill="none"/>
<rect x="209.00" y="550.50" width="7.70" height="15.20" fill="none" stroke="#1a1a1a" stroke-width="0.90"/>
<path d="M212.85 550.50V543.30M210.85 543.30H214.85" stroke="#111" stroke-width="0.9" fill="none"/>
<rect x="216.70" y="480.50" width="7.70" height="85.20" fill="none" stroke="#333" stroke-width="0.75"/>
<path d="M220.55 480.50V450.50M218.55 450.50H222.55" stroke="#111" stroke-width="0.9" fill="none"/>
<rect x="224.40" y="498.30" width="7.70" height="67.40" fill="none" stroke="#1a1a1a" stroke-width="0.90"/>
<path d="M228.25 498.30V475.80M226.25 475.80H230.25" stroke="#111" stroke-width="0.9" fill="none"/>
<rect x="232.10" y="555.80" width="7.70" height="9.90" fill="none" stroke="#333" stroke-width="0.75"/>
<path d="M235.95 555.80V553.80M233.95 553.80H237.95" stroke="#111" stroke-width="0.9" fill="none"/>
<rect x="239.80" y="547.70" width="7.70" height="18.00" fill="none" stroke="#333" stroke-width="0.75"/>
<path d="M243.65 547.70V544.70M241.65 544.70H245.65" stroke="#111" stroke-width="0.9" fill="none"/>
<rect x="259.60" y="553.00" width="7.70" height="12.70" fill="none" stroke="#1a1a1a" stroke-width="0.90"/>
<path d="M263.45 553.00V551.00M261.45 551.00H265.45" stroke="#111" stroke-width="0.9" fill="none"/>
<rect x="267.30" y="512.20" width="7.70" height="53.50" fill="none" stroke="#333" stroke-width="0.75"/>
<path d="M271.15 512.20V501.00M269.15 501.00H273.15" stroke="#111" stroke-width="0.9" fill="none"/>
<rect x="275.00" y="517.70" width="7.70" height="48.00" fill="none" stroke="#1a1a1a" stroke-width="0.90"/>
<path d="M278.85 517.70V509.20M276.85 509.20H280.85" stroke="#111" stroke-width="0.9" fill="none"/>
<rect x="282.70" y="551.30" width="7.70" height="14.40" fill="none" stroke="#333" stroke-width="0.75"/>
<path d="M286.55 551.30V548.00M284.55 548.00H288.55" stroke="#111" stroke-width="0.9" fill="none"/>
<rect x="290.40" y="531.00" width="7.70" height="34.70" fill="none" stroke="#333" stroke-width="0.75"/>
<path d="M294.25 531.00V525.20M292.25 525.20H296.25" stroke="#111" stroke-width="0.9" fill="none"/>
<rect x="310.20" y="548.80" width="7.70" height="16.90" fill="none" stroke="#1a1a1a" stroke-width="0.90"/>
<path d="M314.05 548.80V543.80M312.05 543.80H316.05" stroke="#111" stroke-width="0.9" fill="none"/>
<rect x="317.90" y="493.00" width="7.70" height="72.70" fill="none" stroke="#333" stroke-width="0.75"/>
<path d="M321.75 493.00V483.40M319.75 483.40H323.75" stroke="#111" stroke-width="0.9" fill="none"/>
<rect x="325.60" y="520.20" width="7.70" height="45.50" fill="none" stroke="#1a1a1a" stroke-width="0.90"/>
<path d="M329.45 520.20V505.50M327.45 505.50H331.45" stroke="#111" stroke-width="0.9" fill="none"/>
<rect x="333.30" y="553.00" width="7.70" height="12.70" fill="none" stroke="#333" stroke-width="0.75"/>
<path d="M337.15 553.00V551.80M335.15 551.80H339.15" stroke="#111" stroke-width="0.9" fill="none"/>
<rect x="341.00" y="546.30" width="7.70" height="19.40" fill="none" stroke="#333" stroke-width="0.75"/>
<path d="M344.85 546.30V544.70M342.85 544.70H346.85" stroke="#111" stroke-width="0.9" fill="none"/>
<rect x="360.80" y="545.20" width="7.70" height="20.50" fill="none" stroke="#1a1a1a" stroke-width="0.90"/>
<path d="M364.65 545.20V541.00M362.65 541.00H366.65" stroke="#111" stroke-width="0.9" fill="none"/>
<rect x="368.50" y="528.00" width="7.70" height="37.70" fill="none" stroke="#333" stroke-width="0.75"/>
<path d="M372.35 528.00V522.20M370.35 522.20H374.35" stroke="#111" stroke-width="0.9" fill="none"/>
<rect x="376.20" y="535.80" width="7.70" height="29.90" fill="none" stroke="#1a1a1a" stroke-width="0.90"/>
<path d="M380.05 535.80V530.00M378.05 530.00H382.05" stroke="#111" stroke-width="0.9" fill="none"/>
<rect x="383.90" y="553.30" width="7.70" height="12.40" fill="none" stroke="#333" stroke-width="0.75"/>
<path d="M387.75 553.30V551.70M385.75 551.70H389.75" stroke="#111" stroke-width="0.9" fill="none"/>
<rect x="391.60" y="551.30" width="7.70" height="14.40" fill="none" stroke="#333" stroke-width="0.75"/>
<path d="M395.45 551.30V549.70M393.45 549.70H397.45" stroke="#111" stroke-width="0.9" fill="none"/></g>
<g><path d="M50.70 6.70V188.20H418.60" stroke="#5a5a5a" stroke-width="1" fill="none"/>
<path d="M50.70 188.20h3.3M50.70 170.05h3.3M50.70 151.90h3.3M50.70 133.75h3.3M50.70 115.60h3.3M50.70 97.45h3.3M50.70 79.30h3.3M50.70 61.15h3.3M50.70 43.00h3.3M50.70 24.85h3.3M50.70 6.70h3.3M103.26 188.20v-3.5M155.81 188.20v-3.5M208.37 188.20v-3.5M260.93 188.20v-3.5M313.49 188.20v-3.5M366.04 188.20v-3.5M418.60 188.20v-3.5" stroke="#5a5a5a" stroke-width="1" fill="none"/>
<path d="M213.50 8.60V20.40" stroke="#000" stroke-width="0.9"/><path d="M211.00 19.40L216.00 19.40L213.50 24.40Z" fill="#000"/>
<path d="M52.10 212.80V377.30H409.30" stroke="#5a5a5a" stroke-width="1" fill="none"/>
<path d="M52.10 377.30h3.3M52.10 360.85h3.3M52.10 344.40h3.3M52.10 327.95h3.3M52.10 311.50h3.3M52.10 295.05h3.3M52.10 278.60h3.3M52.10 262.15h3.3M52.10 245.70h3.3M52.10 229.25h3.3M52.10 212.80h3.3M103.13 377.30v-3.5M154.16 377.30v-3.5M205.19 377.30v-3.5M256.21 377.30v-3.5M307.24 377.30v-3.5M358.27 377.30v-3.5M409.30 377.30v-3.5" stroke="#5a5a5a" stroke-width="1" fill="none"/>
<path d="M212.00 215.30V227.70" stroke="#000" stroke-width="0.9"/><path d="M209.50 226.70L214.50 226.70L212.00 231.70Z" fill="#000"/>
<path d="M51.40 404.70V565.70H405.60" stroke="#5a5a5a" stroke-width="1" fill="none"/>
<path d="M51.40 565.70h3.3M51.40 549.60h3.3M51.40 533.50h3.3M51.40 517.40h3.3M51.40 501.30h3.3M51.40 485.20h3.3M51.40 469.10h3.3M51.40 453.00h3.3M51.40 436.90h3.3M51.40 420.80h3.3M51.40 404.70h3.3M102.00 565.70v-3.5M152.60 565.70v-3.5M203.20 565.70v-3.5M253.80 565.70v-3.5M304.40 565.70v-3.5M355.00 565.70v-3.5M405.60 565.70v-3.5" stroke="#5a5a5a" stroke-width="1" fill="none"/>
<path d="M208.80 407.00V417.70" stroke="#000" stroke-width="0.9"/><path d="M206.30 416.70L211.30 416.70L208.80 421.70Z" fill="#000"/>
<rect x="46" y="619.6" width="357" height="18.2" fill="none" stroke="#3a3a3a" stroke-width="1.4"/><rect x="66.30" y="625.8" width="5.8" height="5.8" fill="none" stroke="#000" stroke-width="0.8"/><rect x="115.00" y="625.8" width="5.8" height="5.8" fill="none" stroke="#000" stroke-width="0.8"/><rect x="196.30" y="625.8" width="5.8" height="5.8" fill="#000"/><rect x="196.30" y="625.8" width="5.8" height="5.8" fill="none" stroke="#000" stroke-width="0.8"/><rect x="278.00" y="625.8" width="5.8" height="5.8" fill="none" stroke="#000" stroke-width="0.8"/><rect x="340.50" y="625.8" width="5.8" height="5.8" fill="none" stroke="#000" stroke-width="0.8"/></g>
<g class="tx"><text transform="translate(42.6 191.10) rotate(0.3)" text-anchor="end" class="tk">0</text>
<text transform="translate(42.6 172.95) rotate(0.3)" text-anchor="end" class="tk">1</text>
<text transform="translate(42.6 154.80) rotate(0.3)" text-anchor="end" class="tk">2</text>
<text transform="translate(42.6 136.65) rotate(0.3)" text-anchor="end" class="tk">3</text>
<text transform="translate(42.6 118.50) rotate(0.3)" text-anchor="end" class="tk">4</text>
<text transform="translate(42.6 100.35) rotate(0.3)" text-anchor="end" class="tk">5</text>
<text transform="translate(42.6 82.20) rotate(0.3)" text-anchor="end" class="tk">6</text>
<text transform="translate(42.6 64.05) rotate(0.3)" text-anchor="end" class="tk">7</text>
<text transform="translate(42.6 45.90) rotate(0.3)" text-anchor="end" class="tk">8</text>
<text transform="translate(42.6 27.75) rotate(0.3)" text-anchor="end" class="tk">9</text>
<text transform="translate(42.6 9.60) rotate(0.3)" text-anchor="end" class="tk">10</text>
<text transform="translate(60.30 76.30) rotate(0.3) scale(0.95 1)" class="lt">a</text>
<text transform="translate(68.00 127.30) rotate(0.3) scale(0.95 1)" class="lt">b</text>
<text transform="translate(76.70 118.10) rotate(0.3) scale(0.95 1)" class="lt">ab</text>
<text transform="translate(85.00 141.80) rotate(0.3) scale(0.95 1)" class="lt">b</text>
<text transform="translate(92.50 115.60) rotate(0.3) scale(0.95 1)" class="lt">ab</text>
<text transform="translate(270.30 136.00) rotate(0.3) scale(0.95 1)" class="lt">b</text>
<text transform="translate(278.30 139.30) rotate(0.3) scale(0.95 1)" class="lt">b</text>
<text transform="translate(286.30 136.00) rotate(0.3) scale(0.95 1)" class="lt">b</text>
<text transform="translate(294.00 99.30) rotate(0.3) scale(0.95 1)" class="lt">a</text>
<text transform="translate(293.70 88.00) rotate(0.3)" class="st">*</text>
<text transform="translate(302.80 94.00) rotate(0.3) scale(0.95 1)" class="lt">a</text>
<text transform="translate(322.50 35.30) rotate(0.3) scale(0.95 1)" class="lt">a</text>
<text transform="translate(330.80 144.50) rotate(0.3) scale(0.95 1)" class="lt">b</text>
<text transform="translate(337.80 123.50) rotate(0.3) scale(0.95 1)" class="lt">ab</text>
<text transform="translate(345.70 99.80) rotate(0.3) scale(0.95 1)" class="lt">ab</text>
<text transform="translate(355.30 96.00) rotate(0.3) scale(0.95 1)" class="lt">ab</text>
<text transform="translate(375.30 113.60) rotate(0.3) scale(0.95 1)" class="lt">ab</text>
<text transform="translate(383.30 146.50) rotate(0.3) scale(0.95 1)" class="lt">b</text>
<text transform="translate(390.80 142.30) rotate(0.3) scale(0.95 1)" class="lt">b</text>
<text transform="translate(399.20 105.30) rotate(0.3) scale(0.95 1)" class="lt">a</text>
<text transform="translate(398.80 94.10) rotate(0.3)" class="st">*</text>
<text transform="translate(407.50 95.50) rotate(0.3) scale(0.95 1)" class="lt">a</text>
<text transform="translate(24.60 98.00) rotate(-90)" class="yt" font-size="14.5">T (ng/mL)</text>
<text transform="translate(43.4 380.70) rotate(0.3)" text-anchor="end" class="tk">0</text>
<text transform="translate(43.4 364.25) rotate(0.3)" text-anchor="end" class="tk">10</text>
<text transform="translate(43.4 347.80) rotate(0.3)" text-anchor="end" class="tk">20</text>
<text transform="translate(43.4 331.35) rotate(0.3)" text-anchor="end" class="tk">30</text>
<text transform="translate(43.4 314.90) rotate(0.3)" text-anchor="end" class="tk">40</text>
<text transform="translate(43.4 298.45) rotate(0.3)" text-anchor="end" class="tk">50</text>
<text transform="translate(43.4 282.00) rotate(0.3)" text-anchor="end" class="tk">60</text>
<text transform="translate(43.4 265.55) rotate(0.3)" text-anchor="end" class="tk">70</text>
<text transform="translate(43.4 249.10) rotate(0.3)" text-anchor="end" class="tk">80</text>
<text transform="translate(43.4 232.65) rotate(0.3)" text-anchor="end" class="tk">90</text>
<text transform="translate(43.4 216.20) rotate(0.3)" text-anchor="end" class="tk">100</text>
<text transform="translate(61.70 316.30) rotate(0.3) scale(0.95 1)" class="lt">a</text>
<text transform="translate(69.50 323.30) rotate(0.3) scale(0.95 1)" class="lt">ab</text>
<text transform="translate(77.00 343.30) rotate(0.3) scale(0.95 1)" class="lt">ab</text>
<text transform="translate(85.50 349.60) rotate(0.3) scale(0.95 1)" class="lt">ab</text>
<text transform="translate(94.20 353.80) rotate(0.3) scale(0.95 1)" class="lt">b</text>
<text transform="translate(112.30 344.80) rotate(0.3) scale(0.95 1)" class="lt">c</text>
<text transform="translate(120.70 318.80) rotate(0.3) scale(0.95 1)" class="lt">a</text>
<text transform="translate(128.30 312.50) rotate(0.3) scale(0.95 1)" class="lt">a</text>
<text transform="translate(128.30 302.30) rotate(0.3)" class="st">*</text>
<text transform="translate(137.00 315.00) rotate(0.3) scale(0.95 1)" class="lt">ab</text>
<text transform="translate(137.00 304.30) rotate(0.3)" class="st">*</text>
<text transform="translate(145.30 340.00) rotate(0.3) scale(0.95 1)" class="lt">bc</text>
<text transform="translate(144.80 329.50) rotate(0.3)" class="st">*</text>
<text transform="translate(163.10 348.50) rotate(0.3) scale(0.95 1)" class="lt">b</text>
<text transform="translate(163.10 337.80) rotate(0.3)" class="st">*</text>
<text transform="translate(171.20 300.10) rotate(0.3) scale(0.95 1)" class="lt">a</text>
<text transform="translate(179.50 275.60) rotate(0.3) scale(0.95 1)" class="lt">a</text>
<text transform="translate(179.50 265.00) rotate(0.3)" class="st">*</text>
<text transform="translate(187.80 282.00) rotate(0.3) scale(0.95 1)" class="lt">a</text>
<text transform="translate(187.80 271.30) rotate(0.3)" class="st">*</text>
<text transform="translate(195.00 298.70) rotate(0.3) scale(0.95 1)" class="lt">a</text>
<text transform="translate(194.70 288.00) rotate(0.3)" class="st">*</text>
<text transform="translate(215.00 349.30) rotate(0.3) scale(0.95 1)" class="lt">b</text>
<text transform="translate(215.00 339.00) rotate(0.3)" class="st">*</text>
<text transform="translate(222.50 291.50) rotate(0.3) scale(0.95 1)" class="lt">ab</text>
<text transform="translate(230.50 264.00) rotate(0.3) scale(0.95 1)" class="lt">a</text>
<text transform="translate(240.80 299.80) rotate(0.3) scale(0.95 1)" class="lt">ab</text>
<text transform="translate(248.30 331.00) rotate(0.3) scale(0.95 1)" class="lt">ab</text>
<text transform="translate(248.30 320.40) rotate(0.3)" class="st">*</text>
<text transform="translate(266.00 350.60) rotate(0.3)" class="st">*</text>
<text transform="translate(298.20 320.60) rotate(0.3)" class="st">*</text>
<text transform="translate(316.00 353.00) rotate(0.3) scale(0.95 1)" class="lt">b</text>
<text transform="translate(316.00 342.60) rotate(0.3)" class="st">*</text>
<text transform="translate(324.80 319.10) rotate(0.3) scale(0.95 1)" class="lt">a</text>
<text transform="translate(332.80 344.60) rotate(0.3) scale(0.95 1)" class="lt">ab</text>
<text transform="translate(339.00 336.80) rotate(0.3) scale(0.95 1)" class="lt">ab</text>
<text transform="translate(348.20 320.80) rotate(0.3) scale(0.95 1)" class="lt">a</text>
<text transform="translate(348.20 310.10) rotate(0.3)" class="st">*</text>
<text transform="translate(367.80 351.00) rotate(0.3)" class="st">*</text>
<text transform="translate(399.20 329.80) rotate(0.3)" class="st">*</text>
<text transform="translate(15.00 295.50) rotate(-90)" class="yt" font-size="14.0">E<tspan font-size="8.7" dy="2.5">2</tspan><tspan dy="-2.5"> (ng/mL)</tspan></text>
<text transform="translate(43.4 569.10) rotate(0.3)" text-anchor="end" class="tk">0.0</text>
<text transform="translate(43.4 553.00) rotate(0.3)" text-anchor="end" class="tk">0.1</text>
<text transform="translate(43.4 536.90) rotate(0.3)" text-anchor="end" class="tk">0.2</text>
<text transform="translate(43.4 520.80) rotate(0.3)" text-anchor="end" class="tk">0.3</text>
<text transform="translate(43.4 504.70) rotate(0.3)" text-anchor="end" class="tk">0.4</text>
<text transform="translate(43.4 488.60) rotate(0.3)" text-anchor="end" class="tk">0.5</text>
<text transform="translate(43.4 472.50) rotate(0.3)" text-anchor="end" class="tk">0.6</text>
<text transform="translate(43.4 456.40) rotate(0.3)" text-anchor="end" class="tk">0.7</text>
<text transform="translate(43.4 440.30) rotate(0.3)" text-anchor="end" class="tk">0.8</text>
<text transform="translate(43.4 424.20) rotate(0.3)" text-anchor="end" class="tk">0.9</text>
<text transform="translate(43.4 408.10) rotate(0.3)" text-anchor="end" class="tk">1.0</text>
<text transform="translate(60.80 544.00) rotate(0.3) scale(0.95 1)" class="lt">a</text>
<text transform="translate(68.80 544.00) rotate(0.3) scale(0.95 1)" class="lt">a</text>
<text transform="translate(76.30 549.10) rotate(0.3) scale(0.95 1)" class="lt">ab</text>
<text transform="translate(84.20 553.10) rotate(0.3) scale(0.95 1)" class="lt">b</text>
<text transform="translate(91.70 545.30) rotate(0.3) scale(0.95 1)" class="lt">ab</text>
<text transform="translate(111.20 545.30) rotate(0.3) scale(0.95 1)" class="lt">b</text>
<text transform="translate(119.00 494.50) rotate(0.3) scale(0.95 1)" class="lt">a</text>
<text transform="translate(119.00 484.10) rotate(0.3)" class="st">*</text>
<text transform="translate(127.00 532.00) rotate(0.3) scale(0.95 1)" class="lt">ab</text>
<text transform="translate(133.70 522.50) rotate(0.3) scale(0.95 1)" class="lt">ab</text>
<text transform="translate(133.30 512.10) rotate(0.3)" class="st">*</text>
<text transform="translate(142.00 492.00) rotate(0.3) scale(0.95 1)" class="lt">a</text>
<text transform="translate(162.30 545.30) rotate(0.3) scale(0.95 1)" class="lt">b</text>
<text transform="translate(169.50 497.50) rotate(0.3) scale(0.95 1)" class="lt">ab</text>
<text transform="translate(169.50 487.50) rotate(0.3)" class="st">*</text>
<text transform="translate(177.50 521.50) rotate(0.3) scale(0.95 1)" class="lt">ab</text>
<text transform="translate(177.30 511.30) rotate(0.3)" class="st">*</text>
<text transform="translate(185.30 447.30) rotate(0.3) scale(0.95 1)" class="lt">a</text>
<text transform="translate(193.70 530.30) rotate(0.3) scale(0.95 1)" class="lt">ab</text>
<text transform="translate(210.80 537.50) rotate(0.3) scale(0.95 1)" class="lt">bc</text>
<text transform="translate(220.80 444.80) rotate(0.3) scale(0.95 1)" class="lt">a</text>
<text transform="translate(220.80 434.10) rotate(0.3)" class="st">*</text>
<text transform="translate(228.30 469.80) rotate(0.3) scale(0.95 1)" class="lt">ab</text>
<text transform="translate(228.30 459.10) rotate(0.3)" class="st">*</text>
<text transform="translate(235.70 548.10) rotate(0.3) scale(0.95 1)" class="lt">c</text>
<text transform="translate(242.80 537.80) rotate(0.3) scale(0.95 1)" class="lt">bc</text>
<text transform="translate(263.20 545.30) rotate(0.3) scale(0.95 1)" class="lt">c</text>
<text transform="translate(271.20 495.00) rotate(0.3) scale(0.95 1)" class="lt">a</text>
<text transform="translate(271.20 484.60) rotate(0.3)" class="st">*</text>
<text transform="translate(278.70 504.10) rotate(0.3) scale(0.95 1)" class="lt">a</text>
<text transform="translate(278.70 493.80) rotate(0.3)" class="st">*</text>
<text transform="translate(287.00 544.50) rotate(0.3) scale(0.95 1)" class="lt">bc</text>
<text transform="translate(286.50 534.30) rotate(0.3)" class="st">*</text>
<text transform="translate(294.80 519.80) rotate(0.3) scale(0.95 1)" class="lt">ab</text>
<text transform="translate(294.80 509.30) rotate(0.3)" class="st">*</text>
<text transform="translate(313.70 538.30) rotate(0.3) scale(0.95 1)" class="lt">c</text>
<text transform="translate(321.70 478.10) rotate(0.3) scale(0.95 1)" class="lt">a</text>
<text transform="translate(321.70 467.50) rotate(0.3)" class="st">*</text>
<text transform="translate(329.70 499.00) rotate(0.3) scale(0.95 1)" class="lt">b</text>
<text transform="translate(329.70 488.90) rotate(0.3)" class="st">*</text>
<text transform="translate(337.00 545.60) rotate(0.3) scale(0.95 1)" class="lt">c</text>
<text transform="translate(337.00 535.10) rotate(0.3)" class="st">*</text>
<text transform="translate(344.50 539.00) rotate(0.3) scale(0.95 1)" class="lt">c</text>
<text transform="translate(344.50 528.80) rotate(0.3)" class="st">*</text>
<text transform="translate(362.50 534.90) rotate(0.3) scale(0.95 1)" class="lt">bc</text>
<text transform="translate(372.50 516.10) rotate(0.3) scale(0.95 1)" class="lt">a</text>
<text transform="translate(372.50 506.00) rotate(0.3)" class="st">*</text>
<text transform="translate(379.70 524.00) rotate(0.3) scale(0.95 1)" class="lt">ab</text>
<text transform="translate(380.00 513.80) rotate(0.3)" class="st">*</text>
<text transform="translate(387.50 545.60) rotate(0.3) scale(0.95 1)" class="lt">c</text>
<text transform="translate(387.50 535.00) rotate(0.3)" class="st">*</text>
<text transform="translate(395.80 544.00) rotate(0.3) scale(0.95 1)" class="lt">c</text>
<text transform="translate(11.70 484.50) rotate(-90)" class="yt" font-size="13.7">17,20βP (ng/mL)</text>
<text transform="translate(76.70 581.6) rotate(0.3)" text-anchor="middle" class="tk">0</text>
<text transform="translate(127.30 581.6) rotate(0.3)" text-anchor="middle" class="tk">1</text>
<text transform="translate(177.90 581.6) rotate(0.3)" text-anchor="middle" class="tk">3</text>
<text transform="translate(228.50 581.6) rotate(0.3)" text-anchor="middle" class="tk">5</text>
<text transform="translate(279.10 581.6) rotate(0.3)" text-anchor="middle" class="tk">6</text>
<text transform="translate(329.70 581.6) rotate(0.3)" text-anchor="middle" class="tk">7</text>
<text transform="translate(380.30 581.6) rotate(0.3)" text-anchor="middle" class="tk">10</text>
<text x="226.5" y="605.3" class="yt" font-size="13.6">Days</text>
<text x="74.30" y="631.9" class="lg">Con.</text>
<text x="122.50" y="631.9" class="lg">GnRHa 100</text>
<text x="204.50" y="631.9" class="lg">GnRHa 200</text>
<text x="285.50" y="631.9" class="lg">hCG 50</text>
<text x="347.50" y="631.9" class="lg">hCG 100</text></g>
</svg>
</body></html>
